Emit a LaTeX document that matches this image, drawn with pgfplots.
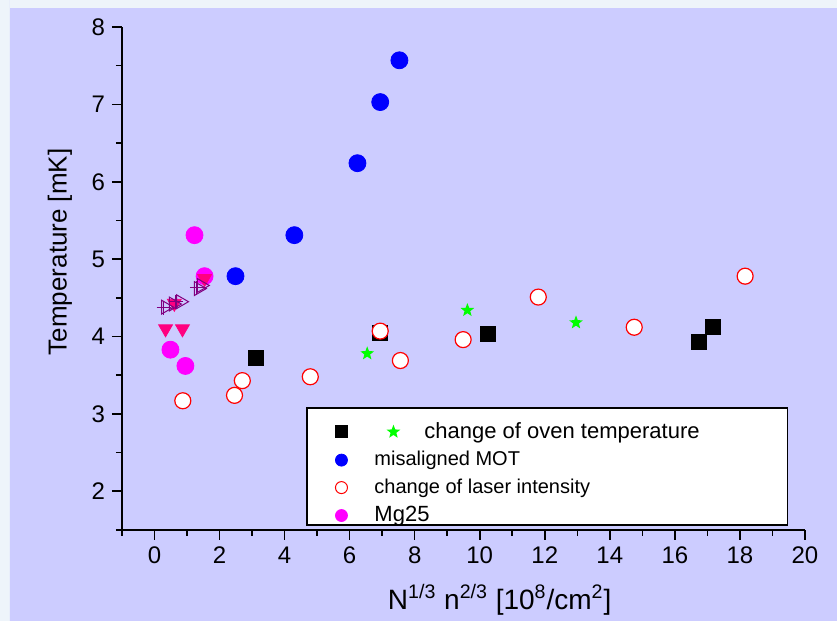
\documentclass[border=0pt]{standalone}
\usepackage{pgfplots}
\pgfplotsset{compat=1.18}
\usepackage{fontspec}
\setmainfont{Liberation Sans}
\usetikzlibrary{backgrounds}

\definecolor{panel}{HTML}{CCCCFF}
\definecolor{frame}{HTML}{EEF4FA}
\definecolor{mgpink}{HTML}{FF0080}
\definecolor{mgpurple}{HTML}{800080}
\definecolor{mgmag}{HTML}{FF00FF}
\definecolor{stargreen}{HTML}{00FF00}

% filled five-pointed star
\pgfdeclareplotmark{fstar}{%
  \pgfpathmoveto{\pgfpointpolar{90}{\pgfplotmarksize}}%
  \pgfpathlineto{\pgfpointpolar{126}{0.42\pgfplotmarksize}}%
  \pgfpathlineto{\pgfpointpolar{162}{\pgfplotmarksize}}%
  \pgfpathlineto{\pgfpointpolar{198}{0.42\pgfplotmarksize}}%
  \pgfpathlineto{\pgfpointpolar{234}{\pgfplotmarksize}}%
  \pgfpathlineto{\pgfpointpolar{270}{0.42\pgfplotmarksize}}%
  \pgfpathlineto{\pgfpointpolar{306}{\pgfplotmarksize}}%
  \pgfpathlineto{\pgfpointpolar{342}{0.42\pgfplotmarksize}}%
  \pgfpathlineto{\pgfpointpolar{18}{\pgfplotmarksize}}%
  \pgfpathlineto{\pgfpointpolar{54}{0.42\pgfplotmarksize}}%
  \pgfpathclose
  \pgfusepathqfill}

\begin{document}
\begin{tikzpicture}
\begin{axis}[
  scale only axis,
  width=341.5pt,
  height=251.5pt,
  xmin=-1, xmax=20,
  ymin=1.5, ymax=8,
  axis x line=bottom,
  axis y line=left,
  axis line style={-, line width=0.8pt},
  tick align=outside,
  major tick length=5pt,
  minor tick length=3pt,
  tick style={line width=0.8pt, black},
  xtick={0,2,...,20},
  minor xtick={-1,1,3,...,19},
  ytick={2,3,...,8},
  minor ytick={1.5,2.5,...,7.5},
  tick label style={font=\fontsize{12}{14}\selectfont},
  /pgf/number format/assume math mode=true,
  xlabel={N\textsuperscript{1/3} n\textsuperscript{2/3} [10\textsuperscript{8}/cm\textsuperscript{2}]},
  ylabel={Temperature [mK]},
  xlabel style={font=\fontsize{14}{16}\selectfont, at={(axis description cs:0.553,-0.139)}, anchor=center},
  ylabel style={font=\fontsize{13}{15}\selectfont, at={(axis description cs:-0.091,0.553)}, anchor=center},
  clip=false,
  legend style={at={(axis description cs:0.271,0.2425)}, anchor=north west,
    draw=none, fill=none, inner xsep=14pt, inner ysep=5pt,
    row sep=1pt, cells={anchor=west},
    /tikz/every odd column/.append style={column sep=11.5pt}},
  legend image code/.code={\draw[#1] plot coordinates {(0pt,0pt)};},
]
% legend frame
\draw[line width=0.6pt, fill=white] (rel axis cs:0.271,0.0099) rectangle (rel axis cs:0.975,0.2425);
% change of oven temperature
\addplot[only marks, mark=square*, mark size=3.75pt, black, forget plot]
  coordinates {(3.13,3.73) (6.94,4.05) (10.26,4.03) (16.74,3.93) (17.17,4.12)};
\addplot[only marks, mark=fstar, mark size=3.6pt, stargreen, forget plot]
  coordinates {(6.54,3.78) (9.62,4.34) (12.96,4.18)};
% misaligned MOT
\addplot[only marks, mark=*, mark size=4.25pt, blue, forget plot]
  coordinates {(2.49,4.78) (4.30,5.31) (6.24,6.24) (6.94,7.03) (7.53,7.57)};
% change of laser intensity
\addplot[only marks, mark=*, mark size=4pt, red, line width=0.6pt, fill=white, forget plot]
  coordinates {(0.87,3.17) (2.46,3.24) (2.70,3.43) (4.79,3.48) (6.94,4.07)
               (7.56,3.69) (9.49,3.96) (11.80,4.51) (14.75,4.12) (18.16,4.78)};
% Mg25
\addplot[only marks, mark=*, mark size=4.25pt, mgmag, forget plot]
  coordinates {(1.23,5.31) (1.54,4.78) (0.49,3.83) (0.95,3.62)};
\addplot[only marks, mark=triangle*, mark size=4pt, mark options={rotate=180}, mgpink, forget plot]
  coordinates {(0.34,4.10) (0.86,4.10) (0.61,4.43) (1.54,4.75)};
\addplot[only marks, mark=triangle, mark size=4pt, mark options={rotate=-90}, mgpurple, line width=0.5pt, forget plot]
  coordinates {(0.34,4.38) (0.58,4.42) (0.80,4.45) (1.35,4.62) (1.44,4.66)};
\addplot[only marks, mark=+, mark size=3.5pt, mgpurple, line width=0.5pt, forget plot]
  coordinates {(0.28,4.37) (0.66,4.45) (1.30,4.63)};

% legend entries
\addlegendimage{legend image code/.code={
  \draw[only marks, mark=square*, mark size=3pt, black] plot coordinates {(0pt,0pt)};
  \pgfinterruptboundingbox
  \draw[only marks, mark=fstar, mark size=3.6pt, stargreen] plot coordinates {(26pt,0pt)};
  \endpgfinterruptboundingbox}}
\addlegendentry{\hspace{25pt}\fontsize{11}{13}\selectfont change of oven temperature}
\addlegendimage{only marks, mark=*, mark size=3pt, blue}
\addlegendentry{\fontsize{10}{12}\selectfont misaligned MOT}
\addlegendimage{only marks, mark=*, mark size=3pt, red, fill=white, line width=0.5pt}
\addlegendentry{\fontsize{10}{12}\selectfont change of laser intensity}
\addlegendimage{only marks, mark=*, mark size=3pt, mgmag}
\addlegendentry{\fontsize{11}{13}\selectfont Mg25}

\coordinate (bl) at (rel axis cs:-0.1786,-0.1809);
\coordinate (tr) at (rel axis cs:1.0469,1.0537);
\coordinate (pl) at (rel axis cs:-0.164,1.0378);
\end{axis}
\begin{scope}[on background layer]
  \fill[frame] (bl) rectangle (tr);
  \fill[panel] (bl -| pl) rectangle (tr -| pl);
  \fill[panel] (pl |- bl) rectangle (tr |- pl);
\end{scope}
\end{tikzpicture}
\end{document}
